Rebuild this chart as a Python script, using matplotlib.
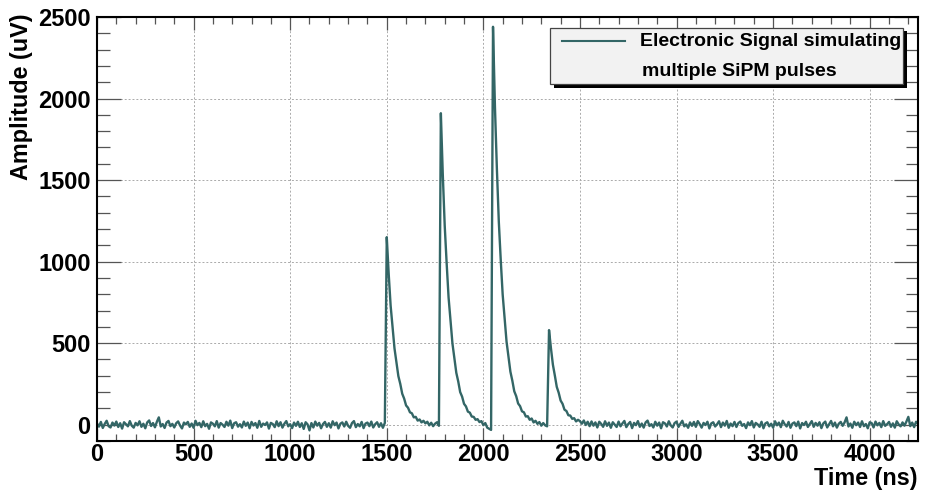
import numpy as np
import matplotlib
matplotlib.use("Agg")
import matplotlib.pyplot as plt
from matplotlib.patches import Rectangle
from matplotlib.lines import Line2D
from matplotlib.ticker import MultipleLocator

plt.rcParams['font.family'] = ['Liberation Sans', 'DejaVu Sans']
plt.rcParams['font.weight'] = 'bold'

sample_step = 10
baseline_pre = [
    8, -12, 17, -20, 5, 24, -9, -17, 13, -5, 19, -14, 9, -24, 15, 3, -10, 22, -6, -18,
    11, -4, 21, -13, 6, -22, 14, 26, -8, 10, -16, 18, 45, -11, 4, -20, 13, 23, -9, 5,
    -17, 9, 20, -5, -23, 13, 2, 17, -13, 7, -19, 24, -3, 11, -15, 21, -9, 5, -25, 14,
    6, -10, 22, -18, 10, 0, -14, 18, -6, 25, -21, 9, 15, -12, 3, -17, 19, -7, 13, -22,
    17, -5, 10, -19, 23, -13, 7, -2, 14, -24, 11, 4, -15, 21, -9, 15, -18, 6, 22, -10,
    3, -21, 13, -7, 18, -14, 9, -26, 15, 2, -35, 10, -17, 19, -6, 11, -22, 4, 17, -13,
    9, -18, 21, -3, 13, -23, 6, 14, -11, 18, -7, -19, 10, 22, -15, 4, -10, 17, -21, 7,
    13, -9, 19, -17, 3, 15, -13, 9, -19, 11,
]
pulse_train = [
    1150, 925, 730, 598, 468, 385, 298, 250, 190, 160,
    118, 104, 76, 70, 45, 48, 25, 32, 14, 24,
    8, 18, -4, 12, -9, 6, 15, -7,
    1910, 1535, 1220, 990, 780, 635, 498, 410, 318, 265,
    200, 172, 128, 112, 80, 74, 50, 48, 30, 34,
    16, 22, -3, 10, -18, -25, -32,
    2440, 1950, 1570, 1245, 1010, 798, 650, 510, 418, 325,
    270, 205, 175, 130, 114, 82, 76, 50, 52, 30,
    38, 14, 24, 5, 16, -6, 10, -4, -10,
    580, 468, 368, 302, 232, 196, 148, 128, 92, 84,
    58, 56, 36, 40, 20, 30,
]
baseline_post = [
    22, 6, 26, -2, 18, -9, 20, -6, 14, -17, 18, 5, -13, 21, -7, 13, -19, 15, 1, -14,
    19, -10, 8, 23, -15, 4, 17, -21, 11, -3, 22, -13, 7, -18, 14, 25, -8, 3, -17, 18,
    -6, 13, -22, 15, 8, -11, 21, -4, -17, 10, 19, -14, 6, 24, -10, 2, -19, 14, -7, 17,
    -13, 22, 4, -18, 11, -2, 18, -23, 8, 15, -11, 3, 21, -15, 13, -6, 23, -19, 7, -9,
    17, -14, 10, 19, -7, 4, -21, 14, -3, 22, -17, 11, 2, -13, 18, -22, 8, 15, -10, 6,
    -18, 21, -4, 13, -15, 24, 3, -11, 17, -19, 7, 14, -9, 19, -23, 10, -2, 18, -14, 4,
    22, -13, 11, -6, 15, -21, 8, 19, -17, 3, 23, -10, 13, -18, 6, 17, -7, 14, 45, -11,
    7, -19, 18, -3, 13, -14, 21, -9, 4, -22, 15, 10, -17, 19, -4, 11, -15, 22, -7, 3,
    17, -13, 8, -18, 21, 2, -10, 14, -6, 19, 48, -9, 13, -15, 18, 6,
]
amplitude = np.array(baseline_pre + pulse_train + baseline_post)
time_ns = np.arange(len(amplitude)) * sample_step

line_color = '#336666'

fig = plt.figure(figsize=(9.25, 4.95), dpi=100)
ax = fig.add_axes([97 / 925, 1 - 441 / 495, 821 / 925, 424 / 495])

ax.plot(time_ns, amplitude, color=line_color, lw=1.7)

ax.set_xlim(0, 4250)
ax.set_ylim(-100, 2500)
ax.xaxis.set_major_locator(MultipleLocator(500))
ax.xaxis.set_minor_locator(MultipleLocator(100))
ax.yaxis.set_major_locator(MultipleLocator(500))
ax.yaxis.set_minor_locator(MultipleLocator(100))

ax.grid(True, which='major', color='#aaaaaa', lw=0.7, ls=(0, (2, 2)))
ax.tick_params(axis='both', which='both', direction='in', top=True, right=True,
               color='#555555', width=0.9, labelsize=17)
ax.tick_params(axis='x', which='major', length=9.5, pad=1.5)
ax.tick_params(axis='x', which='minor', length=5)
ax.tick_params(axis='y', which='major', length=17.5, pad=4.5)
ax.tick_params(axis='y', which='minor', length=9)
for lab in ax.get_xticklabels() + ax.get_yticklabels():
    lab.set_fontweight('bold')
for sp in ax.spines.values():
    sp.set_linewidth(1.5)

# axis titles placed like the ROOT canvas
def fx(px):
    return px / 925

def fy(py):
    return 1 - py / 495

fig.text(fx(918), fy(485), 'Time (ns)', fontsize=16.8, fontweight='bold',
         ha='right', va='baseline')
fig.text(fx(22), fy(13), 'Amplitude (uV)', fontsize=16.8, fontweight='bold',
         rotation=90, ha='center', va='top')

# legend box with drop shadow
fig.add_artist(Rectangle((fx(554), fy(88)), fx(353), 57 / 495, transform=fig.transFigure,
                         facecolor='black', edgecolor='none', zorder=5))
fig.add_artist(Rectangle((fx(550), fy(84)), fx(353), 56 / 495, transform=fig.transFigure,
                         facecolor='#f2f2f2', edgecolor='#444444', lw=0.9, zorder=6))
fig.add_artist(Line2D([fx(562), fx(625)], [fy(41), fy(41)], transform=fig.transFigure,
                      color=line_color, lw=1.5, zorder=7))
fig.text(fx(640), fy(41), 'Electronic Signal simulating', fontsize=14, fontweight='bold',
         va='center', ha='left', zorder=7)
fig.text(fx(642), fy(71), 'multiple SiPM pulses', fontsize=14, fontweight='bold',
         va='center', ha='left', zorder=7)

fig.savefig('out.png', dpi=100)
